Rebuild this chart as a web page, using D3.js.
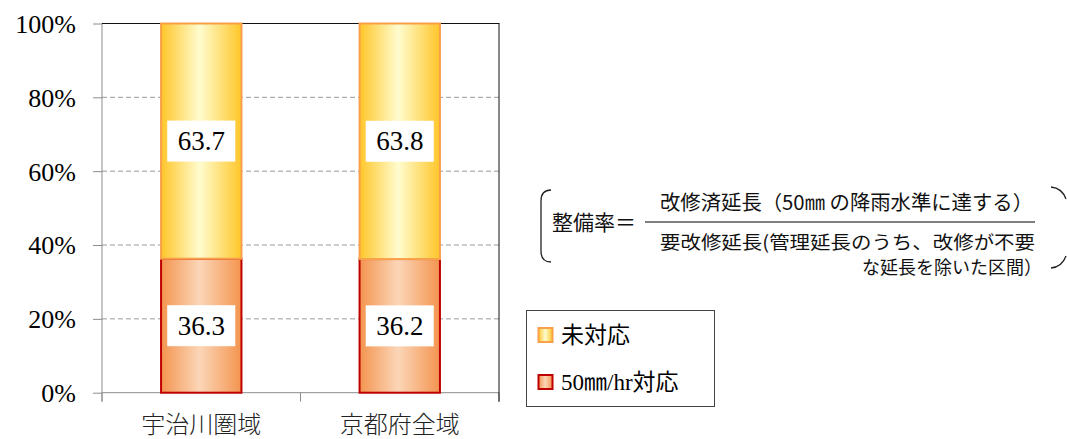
<!DOCTYPE html>
<html><head><meta charset="utf-8">
<script src="https://cdn.jsdelivr.net/npm/d3@7"></script>
<style>body{margin:0;background:#fff}svg{display:block}</style>
</head><body>
<svg id="c" width="1067" height="439"></svg>
<script>
const categories = ["宇治川圏域", "京都府全域"];
const seriesNames = ["50㎜/hr対応", "未対応"];
const done = [36.3, 36.2];      // 50mm/hr対応
const notDone = [63.7, 63.8];   // 未対応
const yTicks = [0, 20, 40, 60, 80, 100];
const yTickLabels = ["0%", "20%", "40%", "60%", "80%", "100%"];
const legendLabels = ["未対応", "50㎜/hr対応"];

const svg = d3.select("#c");
const L = 102, R = 499, T = 23.5, B = 392.7;
const x = d3.scaleBand().domain(categories).range([L, R]).padding(0);
const y = d3.scaleLinear().domain([0, 100]).range([B, T]);
const barW = x.bandwidth() * 0.405;
const serif = "Liberation Serif, Noto Sans CJK JP";

const defs = svg.append("defs");
function grad(id, edge, mid) {
  const g = defs.append("linearGradient").attr("id", id).attr("x1", "0%").attr("x2", "100%").attr("y1", "0%").attr("y2", "0%");
  g.append("stop").attr("offset", "0%").attr("stop-color", edge);
  g.append("stop").attr("offset", "48%").attr("stop-color", mid);
  g.append("stop").attr("offset", "100%").attr("stop-color", edge);
}
grad("gLow", "#F4944F", "#FBD6B8");
grad("gUp", "#FFC629", "#FFFCCF");

// grid
svg.append("g").selectAll("line").data(yTicks.filter(d => d > 0 && d < 100)).join("line")
  .attr("x1", L).attr("x2", R).attr("y1", d => y(d)).attr("y2", d => y(d))
  .attr("stroke", "#9a9a9a").attr("stroke-width", 1).attr("stroke-dasharray", "5,3");

// y axis
const yAxis = d3.axisLeft(y).tickValues(yTicks).tickSize(9).tickFormat((d, i) => yTickLabels[i]);
const gy = svg.append("g").attr("transform", `translate(${L},0)`).call(yAxis);
gy.select(".domain").attr("stroke", "#8c8c8c").attr("d", `M0,${T}V${B + 9}`);
gy.selectAll(".tick line").attr("stroke", "#8c8c8c");
gy.selectAll(".tick text").attr("x", -26).attr("dy", "0.34em").attr("font-family", serif).attr("font-size", 26).attr("fill", "#000");

// x axis
const gx = svg.append("g").attr("transform", `translate(0,${B})`);
gx.append("line").attr("x1", L).attr("x2", R).attr("stroke", "#8c8c8c");
gx.selectAll("line.t").data([L, L + x.bandwidth(), R]).join("line").attr("class", "t")
  .attr("x1", d => d).attr("x2", d => d).attr("y1", 0).attr("y2", 9).attr("stroke", "#8c8c8c");
gx.selectAll("text").data(categories).join("text")
  .attr("x", d => x(d) + x.bandwidth() / 2).attr("y", 40).attr("text-anchor", "middle")
  .attr("font-family", "Noto Sans CJK JP").attr("font-weight", 300).attr("font-size", 24).attr("fill", "#222")
  .text(d => d);

// top and right border
svg.append("line").attr("x1", L).attr("x2", R + 0.5).attr("y1", T).attr("y2", T).attr("stroke", "#111");
svg.append("line").attr("x1", R).attr("x2", R).attr("y1", T).attr("y2", B + 9).attr("stroke", "#111");

// bars
const bars = svg.append("g");
categories.forEach((c, i) => {
  const x0 = x(c) + (x.bandwidth() - barW) / 2;
  bars.append("rect").attr("x", x0).attr("width", barW)
    .attr("y", y(done[i])).attr("height", y(0) - y(done[i]))
    .attr("fill", "url(#gLow)").attr("stroke", "#C00000").attr("stroke-width", 2);
  bars.append("rect").attr("x", x0).attr("width", barW)
    .attr("y", y(done[i] + notDone[i])).attr("height", y(done[i]) - y(done[i] + notDone[i]))
    .attr("fill", "url(#gUp)").attr("stroke", "#F9A04B").attr("stroke-width", 2);
});

// data labels
const labels = svg.append("g");
categories.forEach((c, i) => {
  const cx = x(c) + x.bandwidth() / 2;
  [[done[i], (y(0) + y(done[i])) / 2], [notDone[i], (y(done[i]) + y(done[i] + notDone[i])) / 2]].forEach(([v, cy]) => {
    labels.append("rect").attr("x", cx - 34).attr("y", cy - 20.5).attr("width", 68).attr("height", 41).attr("fill", "#fff");
    labels.append("text").attr("x", cx).attr("y", cy + 9).attr("text-anchor", "middle")
      .attr("font-family", serif).attr("font-size", 27).attr("fill", "#000").text(v.toFixed(1));
  });
});

// legend
const lg = svg.append("g");
lg.append("rect").attr("x", 526.5).attr("y", 310.5).attr("width", 188).attr("height", 96).attr("fill", "#fff").attr("stroke", "#444");
const legendFills = ["url(#gUp)", "url(#gLow)"];
const legendStrokes = ["#F9A04B", "#C00000"];
legendLabels.forEach((t, i) => {
  const cy = 335 + i * 47;
  lg.append("rect").attr("x", 538.5).attr("y", cy - 7).attr("width", 14).attr("height", 14)
    .attr("fill", legendFills[i]).attr("stroke", legendStrokes[i]).attr("stroke-width", 2);
  lg.append("text").attr("x", 561).attr("y", cy + 8).attr("font-family", serif)
    .attr("font-size", 23).attr("fill", "#000").text(t);
});

// formula
const f = svg.append("g").attr("font-family", "Noto Sans CJK JP").attr("fill", "#111");
f.append("text").attr("x", 552).attr("y", 229.5).attr("font-size", 21).text("整備率＝");
f.append("line").attr("x1", 645).attr("x2", 1035).attr("y1", 222).attr("y2", 222).attr("stroke", "#555").attr("stroke-width", 1.5);
f.append("text").attr("x", 660).attr("y", 210).attr("font-size", 20)
  .attr("textLength", 373).attr("lengthAdjust", "spacingAndGlyphs").text("改修済延長（50㎜ の降雨水準に達する）");
f.append("text").attr("x", 660).attr("y", 249).attr("font-size", 18.5)
  .attr("textLength", 375).attr("lengthAdjust", "spacingAndGlyphs").text("要改修延長(管理延長のうち、改修が不要");
f.append("text").attr("x", 862).attr("y", 274).attr("font-size", 18.5)
  .attr("textLength", 180).attr("lengthAdjust", "spacingAndGlyphs").text("な延長を除いた区間）");
f.append("path").attr("d", "M551,190 Q541,190 541,201 V251 Q541,262 551,262").attr("fill", "none").attr("stroke", "#222").attr("stroke-width", 1.3);
f.append("path").attr("d", "M1051,187 Q1062,188 1066,199 M1051,268 Q1062,267 1066,256").attr("fill", "none").attr("stroke", "#222").attr("stroke-width", 1.3);
</script>
</body></html>
